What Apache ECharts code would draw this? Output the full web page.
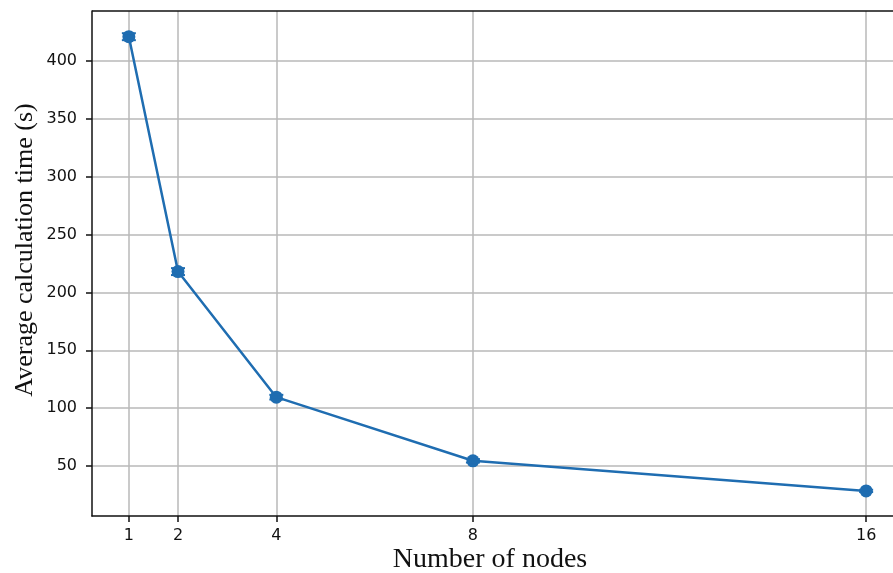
<!DOCTYPE html>
<html><head><meta charset="utf-8">
<script src="https://cdn.jsdelivr.net/npm/echarts@6/dist/echarts.min.js"></script>
<style>html,body{margin:0;padding:0;background:#fff}#c{width:893px;height:573px}</style>
</head><body><div id="c"></div>
<script>
const nodes = [1, 2, 4, 8, 16];
const times = [421, 218, 109.5, 54.5, 28.5];
const errors = [3, 3, 2, 1.5, 1];
const xTicks = [1, 2, 4, 8, 16];
const yTicks = [50, 100, 150, 200, 250, 300, 350, 400];
const xTitle = 'Number of nodes';
const yTitle = 'Average calculation time (s)';

const blue = '#1f6db1';
const chart = echarts.init(document.getElementById('c'), null, {renderer: 'canvas'});
const lineData = nodes.map((n, i) => [n, times[i]]);
const errData = nodes.map((n, i) => [n, times[i] - errors[i], times[i] + errors[i]]);

chart.setOption({
  animation: false,
  grid: {left: 92, top: 11, bottom: 57, right: -10, containLabel: false, outerBoundsMode: 'none'},
  xAxis: {
    type: 'value', min: 0.25, max: 16.75,
    axisLine: {show: true, onZero: false, lineStyle: {color: '#111', width: 1.5}},
    axisTick: {show: true, length: 6, customValues: xTicks, lineStyle: {color: '#111', width: 1.5}},
    axisLabel: {customValues: xTicks, margin: 12, fontFamily: 'DejaVu Sans', fontSize: 16, color: '#111'},
    splitLine: {show: true, lineStyle: {color: '#b8b8b8', width: 1.5}}
  },
  yAxis: {
    type: 'value', min: 6.8, max: 443.2,
    axisLine: {show: true, onZero: false, lineStyle: {color: '#111', width: 1.5}},
    axisTick: {show: true, length: 6, customValues: yTicks, lineStyle: {color: '#111', width: 1.5}},
    axisLabel: {customValues: yTicks, margin: 15, fontFamily: 'DejaVu Sans', fontSize: 16, color: '#111'},
    splitLine: {show: true, lineStyle: {color: '#b8b8b8', width: 1.5}}
  },
  graphic: [
    {type: 'text', style: {text: xTitle, font: '28px "Liberation Serif"', fill: '#111', textAlign: 'center', textVerticalAlign: 'middle'}, x: 490, y: 560, z: 10},
    {type: 'text', rotation: Math.PI / 2, style: {text: yTitle, font: '26px "Liberation Serif"', fill: '#111', textAlign: 'center', textVerticalAlign: 'middle'}, x: 25, y: 250, z: 10},
    {type: 'line', shape: {x1: 92, y1: 11, x2: 893, y2: 11}, style: {stroke: '#111', lineWidth: 1.5}, z: 10}
  ],
  series: [
    {
      type: 'line', data: lineData, symbol: 'circle', symbolSize: 13,
      lineStyle: {color: blue, width: 2.5}, itemStyle: {color: blue}, z: 3
    },
    {
      type: 'custom', data: errData, z: 4,
      renderItem: function (params, api) {
        const x = api.value(0);
        const lo = api.coord([x, api.value(1)]);
        const hi = api.coord([x, api.value(2)]);
        const hw = 7;
        const st = {stroke: blue, lineWidth: 2};
        return {type: 'group', children: [
          {type: 'line', shape: {x1: lo[0], y1: lo[1], x2: hi[0], y2: hi[1]}, style: st},
          {type: 'line', shape: {x1: lo[0] - hw, y1: lo[1], x2: lo[0] + hw, y2: lo[1]}, style: st},
          {type: 'line', shape: {x1: hi[0] - hw, y1: hi[1], x2: hi[0] + hw, y2: hi[1]}, style: st}
        ]};
      }
    }
  ]
});
</script></body></html>
